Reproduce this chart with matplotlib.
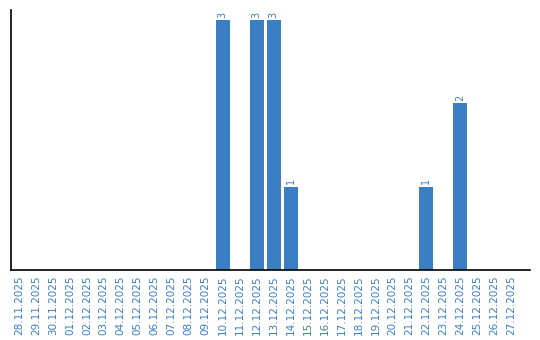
import matplotlib
matplotlib.use('Agg')
import matplotlib.pyplot as plt

# daily counts
dates = ['28.11.2025', '29.11.2025', '30.11.2025', '01.12.2025', '02.12.2025',
         '03.12.2025', '04.12.2025', '05.12.2025', '06.12.2025', '07.12.2025',
         '08.12.2025', '09.12.2025', '10.12.2025', '11.12.2025', '12.12.2025',
         '13.12.2025', '14.12.2025', '15.12.2025', '16.12.2025', '17.12.2025',
         '18.12.2025', '19.12.2025', '20.12.2025', '21.12.2025', '22.12.2025',
         '23.12.2025', '24.12.2025', '25.12.2025', '26.12.2025', '27.12.2025']
counts = [0, 0, 0, 0, 0, 0, 0, 0, 0, 0, 0, 0, 3, 0, 3, 3, 1, 0, 0, 0,
          0, 0, 0, 0, 1, 0, 2, 0, 0, 0]

blue = '#3a7ec3'

fig = plt.figure(figsize=(5.4, 3.4), dpi=100)
ax = fig.add_axes([10.5 / 540, 70 / 340, 519.5 / 540, 260 / 340])

x = list(range(len(dates)))
ax.bar(x, counts, width=0.82, color=blue)

for i, v in enumerate(counts):
    if v > 0:
        ax.text(i, v + 0.03, str(v), rotation=90, ha='center', va='bottom',
                fontsize=7, color=blue)

ax.set_xlim(-0.5, 30.1)
ax.set_ylim(0, 3.12)
ax.set_xticks(x)
ax.set_xticklabels(dates, rotation=90, fontsize=7.5, color=blue)
ax.tick_params(axis='x', length=0, pad=4)
ax.set_yticks([])
ax.spines['top'].set_visible(False)
ax.spines['right'].set_visible(False)
ax.spines['left'].set_linewidth(1.2)
ax.spines['bottom'].set_linewidth(1.2)

fig.savefig('out.png', dpi=100)
